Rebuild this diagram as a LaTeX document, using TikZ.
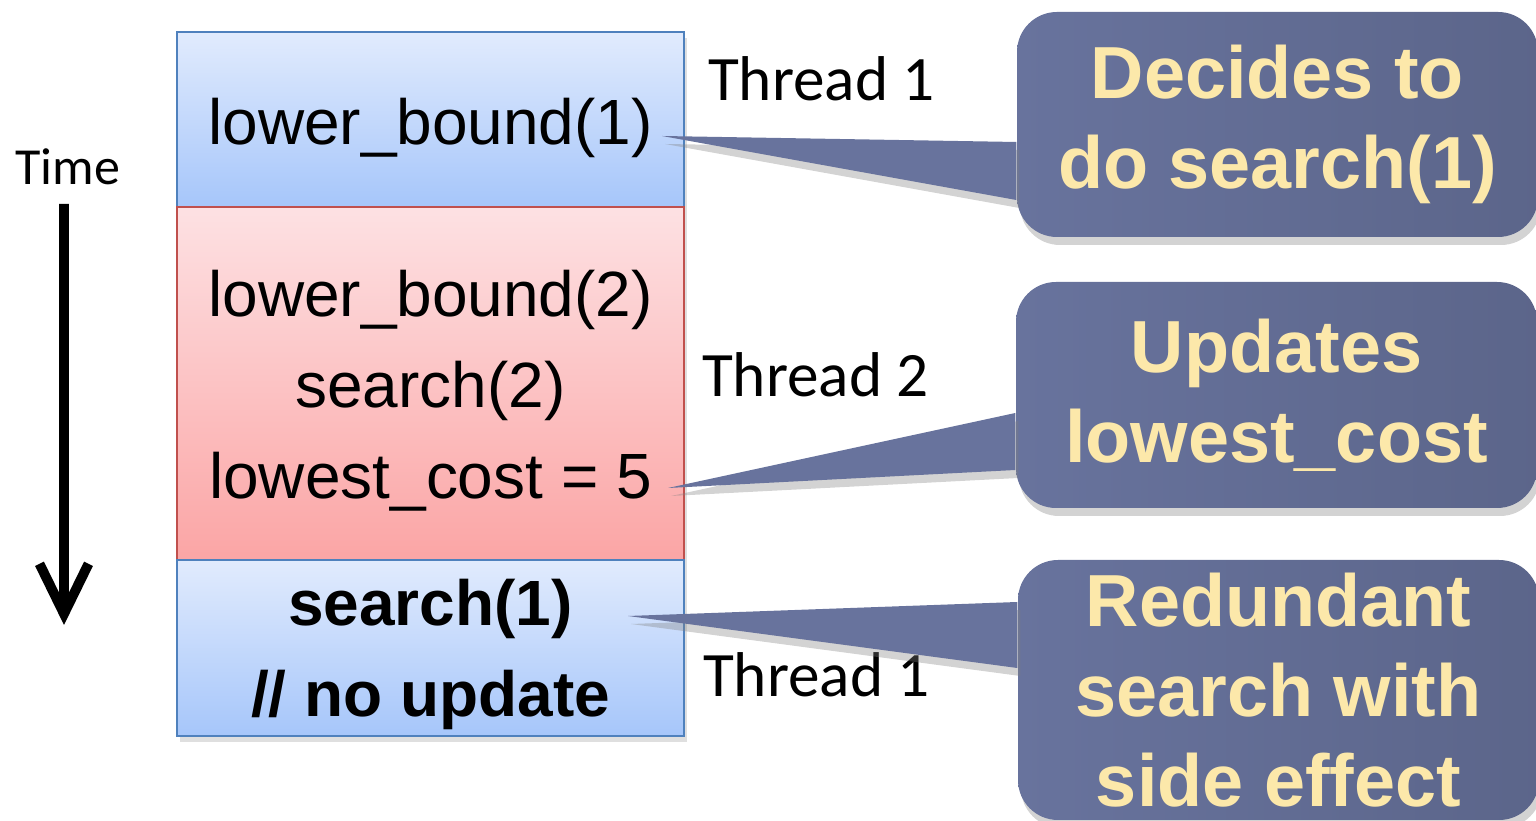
\documentclass[tikz,border=0pt]{standalone}
\usepackage{fontspec}
\setmainfont{Liberation Sans}
\newfontfamily\calibri{Carlito}
\usetikzlibrary{arrows.meta,shadows}
\definecolor{bluetop}{RGB}{225,235,253}
\definecolor{bluebot}{RGB}{166,198,250}
\definecolor{blueline}{RGB}{79,129,189}
\definecolor{redtop}{RGB}{253,225,227}
\definecolor{redbot}{RGB}{251,165,165}
\definecolor{redline}{RGB}{192,80,77}
\definecolor{calloutbg}{RGB}{104,115,157}
\definecolor{callouttxt}{RGB}{252,232,170}
\begin{document}
\begin{tikzpicture}[
  stepbox/.style={draw,line width=0.6pt,minimum width=5.07cm,inner sep=0pt,outer sep=0pt,
    drop shadow={opacity=0.25,shadow xshift=0.3mm,shadow yshift=-0.6mm}},
  bluebox/.style={stepbox,draw=blueline,top color=bluetop,bottom color=bluebot},
  redbox/.style={stepbox,draw=redline,top color=redtop,bottom color=redbot},
  boxtext/.style={align=center,font=\fontsize{18.2}{25.9}\selectfont},
  callout/.style={left color=calloutbg,right color=calloutbg!88!black,rounded corners=0.4cm,
    minimum width=5.21cm,inner sep=0pt,align=center,text=callouttxt,
    font=\bfseries\fontsize{21}{25.6}\selectfont,
    drop shadow={opacity=0.35,shadow xshift=0.3mm,shadow yshift=-0.8mm}},
  pointer/.style={fill=calloutbg,drop shadow={opacity=0.35,shadow xshift=0.3mm,shadow yshift=-0.8mm}},
  thread/.style={font=\calibri\fontsize{18}{20}\selectfont}]
  \useasboundingbox (0,0) rectangle (15.36,-8.21);

  % time axis
  \node[font=\calibri\fontsize{14.8}{16}\selectfont] (time) at (0.68,-1.665) {Time};
  \coordinate (tend) at (0.64,-6.25);
  \draw[line width=2.8pt,-{Straight Barb[length=5mm,width=4.9mm]}] ([xshift=-0.4mm,yshift=-0.7mm]time.south) -- (tend);

  % the three steps
  \node[bluebox,minimum height=1.75cm] (b1) at (4.305,-1.195) {};
  \node[redbox,minimum height=3.53cm] (b2) at (4.305,-3.835) {};
  \node[bluebox,minimum height=1.76cm] (b3) at (4.305,-6.48) {};
  \node[boxtext] (l1) at ([yshift=-0.8mm]b1) {lower\_bound(1)};
  \node[boxtext] (l2) at ([yshift=-0.75mm]b2) {lower\_bound(2)\\search(2)\\lowest\_cost = 5};
  \node[boxtext,font=\bfseries\fontsize{18.2}{25.9}\selectfont] (l3) at ([yshift=-0.6mm]b3) {search(1)\\// no update};

  \node[thread] (th1) at (8.215,-0.785) {Thread 1};
  \node[thread] (th2) at (8.155,-3.75) {Thread 2};
  \node[thread] (th3) at (8.165,-6.75) {Thread 1};

  % callouts
  \coordinate (t1) at (6.62,-1.36);
  \coordinate (t2) at (6.68,-4.88);
  \coordinate (t3) at (6.28,-6.16);
  \node[callout,minimum height=2.25cm] (c1) at (12.775,-1.245) {Decides to\\do search(1)};
  \node[callout,minimum height=2.26cm] (c2) at (12.765,-3.95) {Updates\\lowest\_cost};
  \node[callout,minimum height=2.6cm] (c3) at (12.785,-6.9) {Redundant\\search with\\side effect};
  \fill[pointer] (t1) -- ([yshift=-1.75mm]c1.west) -- ([yshift=-7.55mm]c1.west) -- cycle;
  \fill[pointer] (t2) -- ([yshift=-1.8mm]c2.west) -- ([yshift=-7.5mm]c2.west) -- cycle;
  \fill[pointer] (t3) -- ([yshift=8.8mm]c3.west) -- ([yshift=2.2mm]c3.west) -- cycle;
\end{tikzpicture}
\end{document}
